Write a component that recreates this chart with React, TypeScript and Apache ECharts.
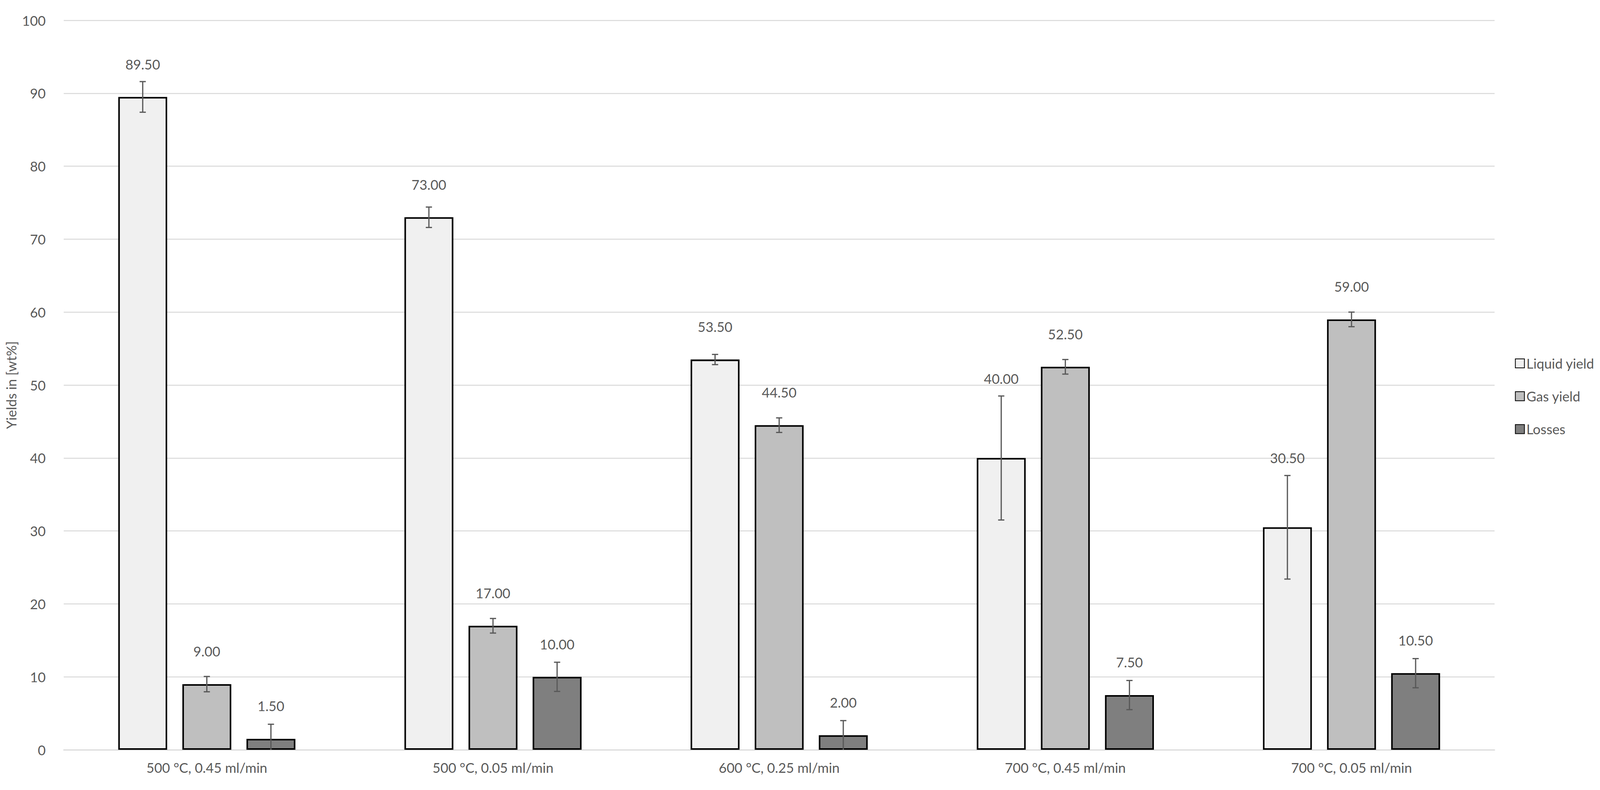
import React, { useEffect, useRef } from "react";
import * as echarts from "echarts";

const categories = [
  "500 °C, 0.45 ml/min",
  "500 °C, 0.05 ml/min",
  "600 °C, 0.25 ml/min",
  "700 °C, 0.45 ml/min",
  "700 °C, 0.05 ml/min",
];
const seriesNames = ["Liquid yield", "Gas yield", "Losses"];
const liquidYield = [89.5, 73, 53.5, 40, 30.5];
const gasYield = [9, 17, 44.5, 52.5, 59];
const losses = [1.5, 10, 2, 7.5, 10.5];
const liquidErr = [2.1, 1.4, 0.7, 8.5, 7.1];
const gasErr = [1.05, 1.0, 1.0, 1.0, 1.0];
const lossesErr = [2, 2, 2, 2, 2];
const yMin = 0;
const yMax = 100;
const yInterval = 10;

const FONT = "Lato, Carlito, 'Open Sans', sans-serif";
const TEXT_COLOR = "#595959";
const BAR_W = 0.171;
const BAR_GAP = 0.31;
const STEP = BAR_W * (1 + BAR_GAP);
const REF_W = 5146;
const REF_H = 2023;

const values = [liquidYield, gasYield, losses];
const errors = [liquidErr, gasErr, lossesErr];
const fills = ["#f0f0f0", "#bfbfbf", "#7f7f7f"];

export default function App() {
  const ref = useRef<HTMLDivElement>(null);
  useEffect(() => {
    if (!ref.current) return;
    const W = ref.current.clientWidth || window.innerWidth;
    const H = ref.current.clientHeight || window.innerHeight;
    const kx = W / REF_W;
    const ky = H / REF_H;
    const kf = Math.sqrt(kx * ky);
    const fs = 39 * kf;
    const chart = echarts.init(ref.current, null, { renderer: "svg" });

    const barSeries = seriesNames.map((name, s) => ({
      name,
      type: "bar",
      data: values[s],
      barWidth: BAR_W * 100 + "%",
      barGap: BAR_GAP * 100 + "%",
      itemStyle: { color: fills[s], borderColor: "#000000", borderWidth: 4.5 * kf },
      z: 2,
    }));

    const errSeries = seriesNames.map((name, s) => ({
      name: name + " error",
      type: "custom",
      z: 5,
      clip: false,
      encode: { x: 0, y: 1 },
      data: values[s].map((v, i) => [i, v, errors[s][i]]),
      renderItem: (params: any, api: any) => {
        const i = api.value(0);
        const v = api.value(1);
        const e = api.value(2);
        const catW = api.size([1, 0])[0];
        const off = (s - 1) * catW * STEP;
        const hi = api.coord([i, v + e]);
        const loVal = v - e;
        const lo = api.coord([i, Math.max(0, loVal)]);
        const x = hi[0] + off;
        const cap = 10 * kx;
        const lineStyle = { stroke: "#595959", lineWidth: 3.5 * kf };
        const children: any[] = [
          { type: "line", shape: { x1: x, y1: hi[1], x2: x, y2: lo[1] }, style: lineStyle },
          { type: "line", shape: { x1: x - cap, y1: hi[1], x2: x + cap, y2: hi[1] }, style: lineStyle },
        ];
        if (loVal > 0) {
          children.push({ type: "line", shape: { x1: x - cap, y1: lo[1], x2: x + cap, y2: lo[1] }, style: lineStyle });
        }
        const labelVal = Math.max(v + 4.5, v + e + 2.4);
        const lp = api.coord([i, labelVal]);
        children.push({
          type: "text",
          x: x,
          y: lp[1],
          style: {
            text: v.toFixed(2),
            fill: TEXT_COLOR,
            font: `${fs}px ${FONT}`,
            textAlign: "center",
            textVerticalAlign: "middle",
          },
        });
        return { type: "group", children };
      },
    }));

    chart.setOption({
      animation: false,
      backgroundColor: "#ffffff",
      textStyle: { fontFamily: FONT },
      grid: { left: 205 * kx, right: 339 * kx, top: 52 * ky, bottom: 103 * ky, containLabel: false },
      legend: {
        data: seriesNames,
        orient: "vertical",
        right: 18 * kx,
        top: 913 * ky,
        itemWidth: 26 * kf,
        itemHeight: 26 * kf,
        itemGap: 84 * ky - fs,
        icon: "rect",
        align: "left",
        padding: 0,
        textStyle: { color: TEXT_COLOR, fontSize: fs, fontFamily: FONT, lineHeight: fs, padding: [0, 0, 0, 0] },
        selectedMode: false,
      },
      xAxis: {
        type: "category",
        data: categories,
        axisTick: { show: false },
        axisLine: { show: true, lineStyle: { color: "#d9d9d9", width: 3 * kf } },
        axisLabel: { color: TEXT_COLOR, fontSize: fs, fontFamily: FONT, margin: 28 * ky },
      },
      yAxis: {
        type: "value",
        min: yMin,
        max: yMax,
        interval: yInterval,
        name: "Yields in [wt%]",
        nameLocation: "middle",
        nameRotate: 90,
        nameGap: 58 * kx,
        nameTextStyle: { color: TEXT_COLOR, fontSize: fs, fontFamily: FONT },
        axisLine: { show: false },
        axisTick: { show: false },
        axisLabel: { color: TEXT_COLOR, fontSize: fs, fontFamily: FONT, margin: 58 * kx },
        splitLine: { show: true, lineStyle: { color: "#d9d9d9", width: 3 * kf } },
      },
      series: [...barSeries, ...errSeries],
    });
    return () => chart.dispose();
  }, []);
  return (
    <div
      ref={ref}
      style={{ position: "fixed", left: 0, top: 0, width: "100vw", height: "100vh" }}
    />
  );
}
